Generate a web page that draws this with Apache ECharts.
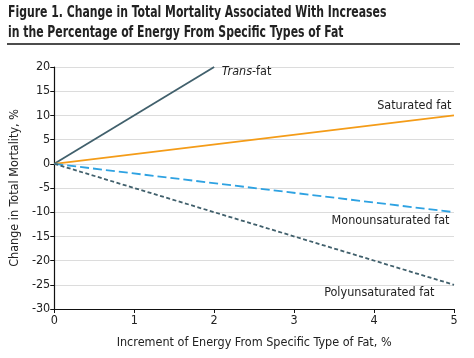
<!DOCTYPE html>
<html><head><meta charset="utf-8">
<script src="https://cdn.jsdelivr.net/npm/echarts@6/dist/echarts.min.js"></script>
<style>html,body{margin:0;padding:0;background:#fff}#c{width:474px;height:358px}</style>
</head><body><div id="c"></div>
<script>
const titleLine1 = 'Figure 1. Change in Total Mortality Associated With Increases';
const titleLine2 = 'in the Percentage of Energy From Specific Types of Fat';
const xName = 'Increment of Energy From Specific Type of Fat, %';
const yName = 'Change in Total Mortality, %';
const transX = [0, 2];
const transY = [0, 20];
const fatX = [0, 5];
const saturatedY = [0, 10];
const monoY = [0, -10];
const polyY = [0, -25];
const FONT = '"Liberation Sans Narrow","DejaVu Sans Condensed","Liberation Sans",sans-serif';

function pts(xs, ys){ return xs.map((x,i)=>[x, ys[i]]); }
function withEndLabel(data, label){
  return data.map((d,i)=> i===data.length-1 ? {value:d, label:Object.assign({show:true}, label)} : d);
}
const lbl = {fontFamily:FONT, fontSize:12.5, color:'#222'};
const hidden = {color:'rgba(0,0,0,0)', borderWidth:0};

const chart = echarts.init(document.getElementById('c'));
chart.setOption({
  animation:false,
  textStyle:{fontFamily:FONT},
  graphic:[
    {type:'text', x:8, y:3, scaleX:0.78, style:{text:titleLine1 + '\n' + titleLine2, font:'bold 15.5px ' + FONT, fill:'#222', lineHeight:20}},
    {type:'line', shape:{x1:7,y1:44,x2:460,y2:44}, style:{stroke:'#111', lineWidth:1.5}}
  ],
  grid:{left:53, right:20, top:67, bottom:49},
  xAxis:{type:'value', min:0, max:5, interval:1, name:xName, nameLocation:'middle', nameGap:27,
    nameTextStyle:{fontFamily:FONT, fontSize:12.5, color:'#222'},
    axisLine:{onZero:false, lineStyle:{color:'#111', width:1.2}}, axisTick:{show:true, length:4, lineStyle:{color:'#111'}},
    axisLabel:{fontFamily:FONT, fontSize:12.5, color:'#222', margin:5}, splitLine:{show:false}},
  yAxis:{type:'value', min:-30, max:20, interval:5, name:yName, nameLocation:'middle', nameGap:33, nameRotate:90,
    nameTextStyle:{fontFamily:FONT, fontSize:12.5, color:'#222'},
    axisLine:{show:true, lineStyle:{color:'#111', width:1.2}}, axisTick:{show:true, length:4, lineStyle:{color:'#111'}},
    axisLabel:{fontFamily:FONT, fontSize:12.5, color:'#222', margin:4}, splitLine:{lineStyle:{color:'#dcdcdc', width:1}}},
  series:[
    {type:'line', name:'Trans-fat', symbol:'circle', symbolSize:1, showSymbol:true, itemStyle:hidden,
      data:withEndLabel(pts(transX, transY), Object.assign({position:'right', distance:7, offset:[0,5],
        formatter:'{i|Trans}-fat', rich:{i:{fontStyle:'italic', fontFamily:FONT, fontSize:12.5, color:'#222'}}}, lbl)),
      lineStyle:{color:'#41606c', width:1.8}},
    {type:'line', name:'Saturated fat', symbol:'circle', symbolSize:1, showSymbol:true, itemStyle:hidden,
      data:withEndLabel(pts(fatX, saturatedY), Object.assign({position:'left', distance:2, offset:[0,-10], formatter:'Saturated fat'}, lbl)),
      lineStyle:{color:'#f49c18', width:1.8}},
    {type:'line', name:'Monounsaturated fat', symbol:'circle', symbolSize:1, showSymbol:true, itemStyle:hidden,
      data:withEndLabel(pts(fatX, monoY), Object.assign({position:'left', distance:4, offset:[0,9], formatter:'Monounsaturated fat'}, lbl)),
      lineStyle:{color:'#2ea2e2', width:1.8, type:[9,4]}},
    {type:'line', name:'Polyunsaturated fat', symbol:'circle', symbolSize:1, showSymbol:true, itemStyle:hidden,
      data:withEndLabel(pts(fatX, polyY), Object.assign({position:'left', distance:19, offset:[0,8], formatter:'Polyunsaturated fat'}, lbl)),
      lineStyle:{color:'#41606c', width:1.8, type:[4,2.5]}}
  ]
});
</script></body></html>
